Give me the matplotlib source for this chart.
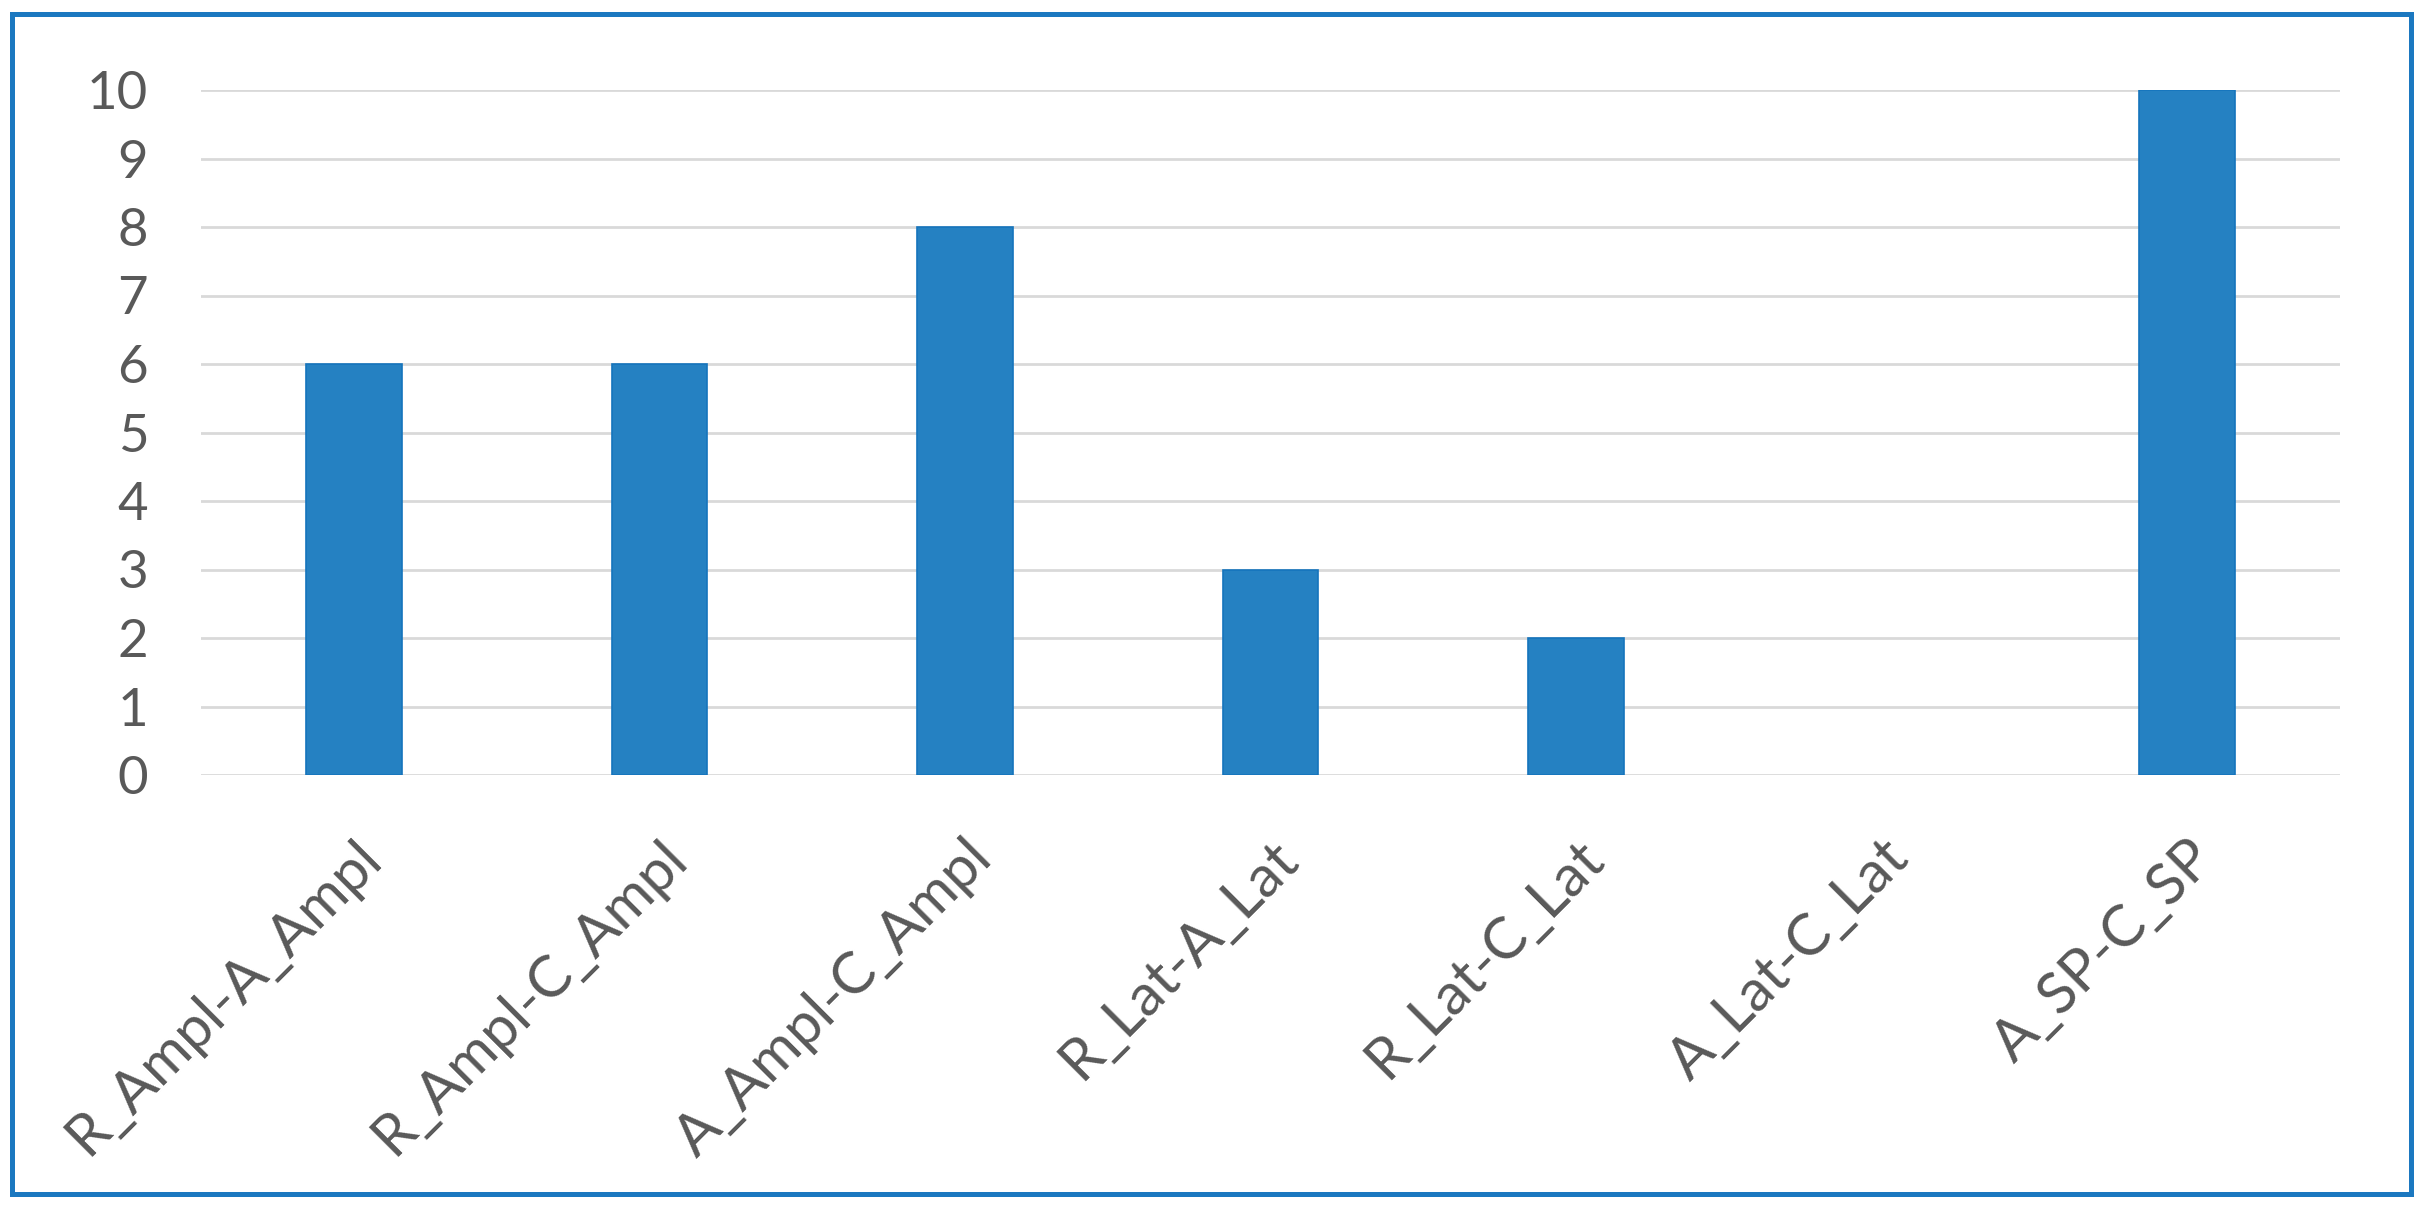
import matplotlib.pyplot as plt
from matplotlib.patches import Rectangle

categories = ["R_Ampl-A_Ampl", "R_Ampl-C_Ampl", "A_Ampl-C_Ampl", "R_Lat-A_Lat",
              "R_Lat-C_Lat", "A_Lat-C_Lat", "A_SP-C_SP"]
values = [6, 6, 8, 3, 2, 0, 10]
yticks = list(range(0, 11))

plt.rcParams['font.family'] = ['Lato', 'DejaVu Sans']

W, H = 2427, 1210
fig = plt.figure(figsize=(W / 100, H / 100), dpi=100)
ax = fig.add_axes([201 / W, 1 - 775 / H, (2340 - 201) / W, (775 - 90) / H])

x = list(range(len(categories)))
bars = ax.bar(x, values, width=0.313, color='#2581C2', edgecolor='#1574BC', linewidth=1.2, zorder=3)
for b, v in zip(bars, values):
    if v == 0:
        b.set_linewidth(0)

ax.set_xlim(-0.5, len(categories) - 0.5)
ax.set_ylim(0, 10)
ax.set_yticks(yticks)
ax.yaxis.grid(True, color='#D9D9D9', linewidth=2.0, zorder=0)
for s in ax.spines.values():
    s.set_visible(False)
ax.tick_params(axis='both', length=0, labelcolor='#595959')
ax.tick_params(axis='y', pad=38, labelsize=38)
ax.tick_params(axis='x', pad=40, labelsize=42)

ax.set_xticks(x)
ax.set_xticklabels(categories, rotation=45, ha='right', va='top', rotation_mode='anchor')

# blue frame around the chart area
fig.patches.append(Rectangle((12 / W, 1 - 1194 / H), (2411 - 12) / W, (1194 - 14) / H,
                             transform=fig.transFigure, fill=False,
                             edgecolor='#1B78C0', linewidth=3.6))

fig.savefig('out.png', dpi=100, facecolor='white')
